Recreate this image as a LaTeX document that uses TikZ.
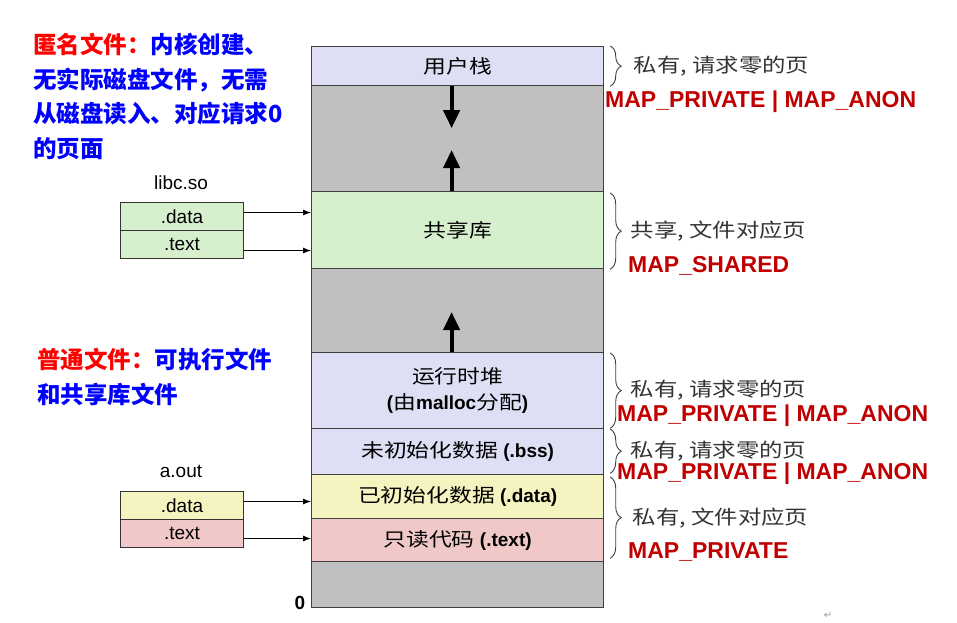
\documentclass[tikz,border=0pt]{standalone}
\usepackage{fontspec}
\usepackage{xcolor}
\setmainfont{Liberation Sans}
\newfontfamily\cjk{Noto Sans CJK SC}
\newfontfamily\cjkw[FakeStretch=1.2]{Noto Sans CJK SC}
\newfontfamily\symfont{DejaVu Sans}
\usetikzlibrary{arrows.meta,decorations.pathreplacing}

\definecolor{gapgray}{RGB}{192,192,192}
\definecolor{lavender}{RGB}{222,222,244}
\definecolor{libgreen}{RGB}{214,240,206}
\definecolor{datayellow}{RGB}{245,243,192}
\definecolor{textpink}{RGB}{240,200,200}
\definecolor{mapred}{RGB}{192,0,0}
\newcommand{\zh}[1]{{\cjkw\mdseries #1}}

\begin{document}
\begin{tikzpicture}[x=1pt,y=-1pt,
  seg/.style={draw=black!75, line width=1.2pt, anchor=north west, inner sep=0pt,
    minimum width=292pt, align=center, font=\bfseries\fontsize{19}{26}\selectfont},
  sec/.style={draw=black!80, line width=1pt, anchor=north west, inner sep=0pt,
    minimum width=123pt, minimum height=28pt, font=\fontsize{19}{22}\selectfont},
  growarrow/.style={line width=4pt, -{Triangle[length=18pt,width=16pt]}},
  link/.style={line width=1pt, -{Latex[length=8pt,width=6pt]}},
  brace/.style={decorate, decoration={brace, amplitude=11pt}, line width=0.9pt, draw=black!75},
  note/.style={inner sep=0pt, text=black!80, font=\cjkw\fontsize{19.5}{22}\selectfont},
  flag/.style={anchor=west, inner sep=0pt, text=mapred, font=\bfseries\fontsize{23}{26}\selectfont},
  remark/.style={anchor=north west, inner sep=0pt, align=left, text=blue,
    font=\cjk\bfseries\fontsize{23.5}{34.5}\selectfont}
]
  \useasboundingbox (0,0) rectangle (957,622);

  % address space, top to bottom
  \node[seg, fill=lavender,   minimum height=39pt]  (stack) at (311,46)  {\zh{用户栈}};
  \node[seg, fill=gapgray,    minimum height=106pt] (gap1)  at (311,85)  {};
  \node[seg, fill=libgreen,   minimum height=77pt]  (shlib) at (311,191) {\zh{共享库}};
  \node[seg, fill=gapgray,    minimum height=84pt]  (gap2)  at (311,268) {};
  \node[seg, fill=lavender,   minimum height=76pt]  (heap)  at (311,352) {\zh{运行时堆}\\(\zh{由}malloc\zh{分配})};
  \node[seg, fill=lavender,   minimum height=46pt]  (bss)   at (311,428) {\zh{未初始化数据} (.bss)};
  \node[seg, fill=datayellow, minimum height=44pt]  (data)  at (311,474) {\zh{已初始化数据} (.data)};
  \node[seg, fill=textpink,   minimum height=43pt]  (text)  at (311,518) {\zh{只读代码} (.text)};
  \node[seg, fill=gapgray,    minimum height=46pt]  (gap3)  at (311,561) {};
  \node[font=\bfseries\fontsize{19}{22}\selectfont] (zero) at (300,603) {0};

  \draw[growarrow] ([xshift=-6pt]stack.south) -- ++(0,42);
  \draw[growarrow] ([xshift=-6pt]shlib.north) -- ++(0,-41);
  \draw[growarrow] ([xshift=-6pt]heap.north) -- ++(0,-40);

  % libc.so
  \node[font=\fontsize{19}{22}\selectfont] (libname) at (181,183) {libc.so};
  \node[sec, fill=libgreen] (libdata) at (120,202) {.data};
  \node[sec, fill=libgreen] (libtext) at (120,230) {.text};
  \draw[link] ([yshift=4pt]libdata.east) -- ([yshift=4pt]libdata.east -| shlib.west);
  \draw[link] ([yshift=-6pt]libtext.east) -- ([yshift=-6pt]libtext.east -| shlib.west);

  % a.out
  \node[font=\fontsize{19}{22}\selectfont] (aoname) at (181,471) {a.out};
  \node[sec, fill=datayellow] (aodata) at (120,491) {.data};
  \node[sec, fill=textpink]   (aotext) at (120,519) {.text};
  \draw[link] ([yshift=4pt]aodata.east) -- ([yshift=4pt]aodata.east -| data.west);
  \draw[link] ([yshift=-5pt]aotext.east) -- ([yshift=-5pt]aotext.east -| text.west);

  % braces and flags
  \draw[brace] ([xshift=6pt]stack.north east) -- ([xshift=6pt]stack.south east)
    node[note, midway, right=23pt] (n1) {私有, 请求零的页};
  \draw[brace] ([xshift=6pt,yshift=-2pt]shlib.north east) -- ([xshift=6pt]shlib.south east)
    node[note, midway, right=20pt] (n2) {共享, 文件对应页};
  \draw[brace] ([xshift=6pt,yshift=-1pt]heap.north east) -- ([xshift=6pt,yshift=1pt]heap.south east)
    node[note, midway, right=20pt] (n3) {私有, 请求零的页};
  \draw[brace] ([xshift=6pt,yshift=-1pt]bss.north east) -- ([xshift=6pt,yshift=2pt]bss.south east)
    node[note, midway, right=20pt] (n4) {私有, 请求零的页};
  \draw[brace] ([xshift=6pt,yshift=-3pt]data.north east) -- ([xshift=6pt,yshift=4pt]text.south east)
    node[note, midway, right=22pt] (n5) {私有, 文件对应页};
  \node[flag] (f1) at (605,102) {MAP\_PRIVATE | MAP\_ANON};
  \node[flag] (f2) at (628,266) {MAP\_SHARED};
  \node[flag] (f3) at (617,416) {MAP\_PRIVATE | MAP\_ANON};
  \node[flag] (f4) at (617,474) {MAP\_PRIVATE | MAP\_ANON};
  \node[flag] (f5) at (628,552) {MAP\_PRIVATE};

  % remarks
  \node[remark] (anon) at (33,33) {{\color{red}匿名文件：}内核创建、\\无实际磁盘文件，无需\\从磁盘读入、对应请求0\\的页面};
  \node[remark] (plain) at (37,348) {{\color{red}普通文件：}可执行文件\\和共享库文件};
  \node[text=black!40, font=\symfont\fontsize{10}{12}\selectfont] (ret) at (828,615) {↵};
\end{tikzpicture}
\end{document}
